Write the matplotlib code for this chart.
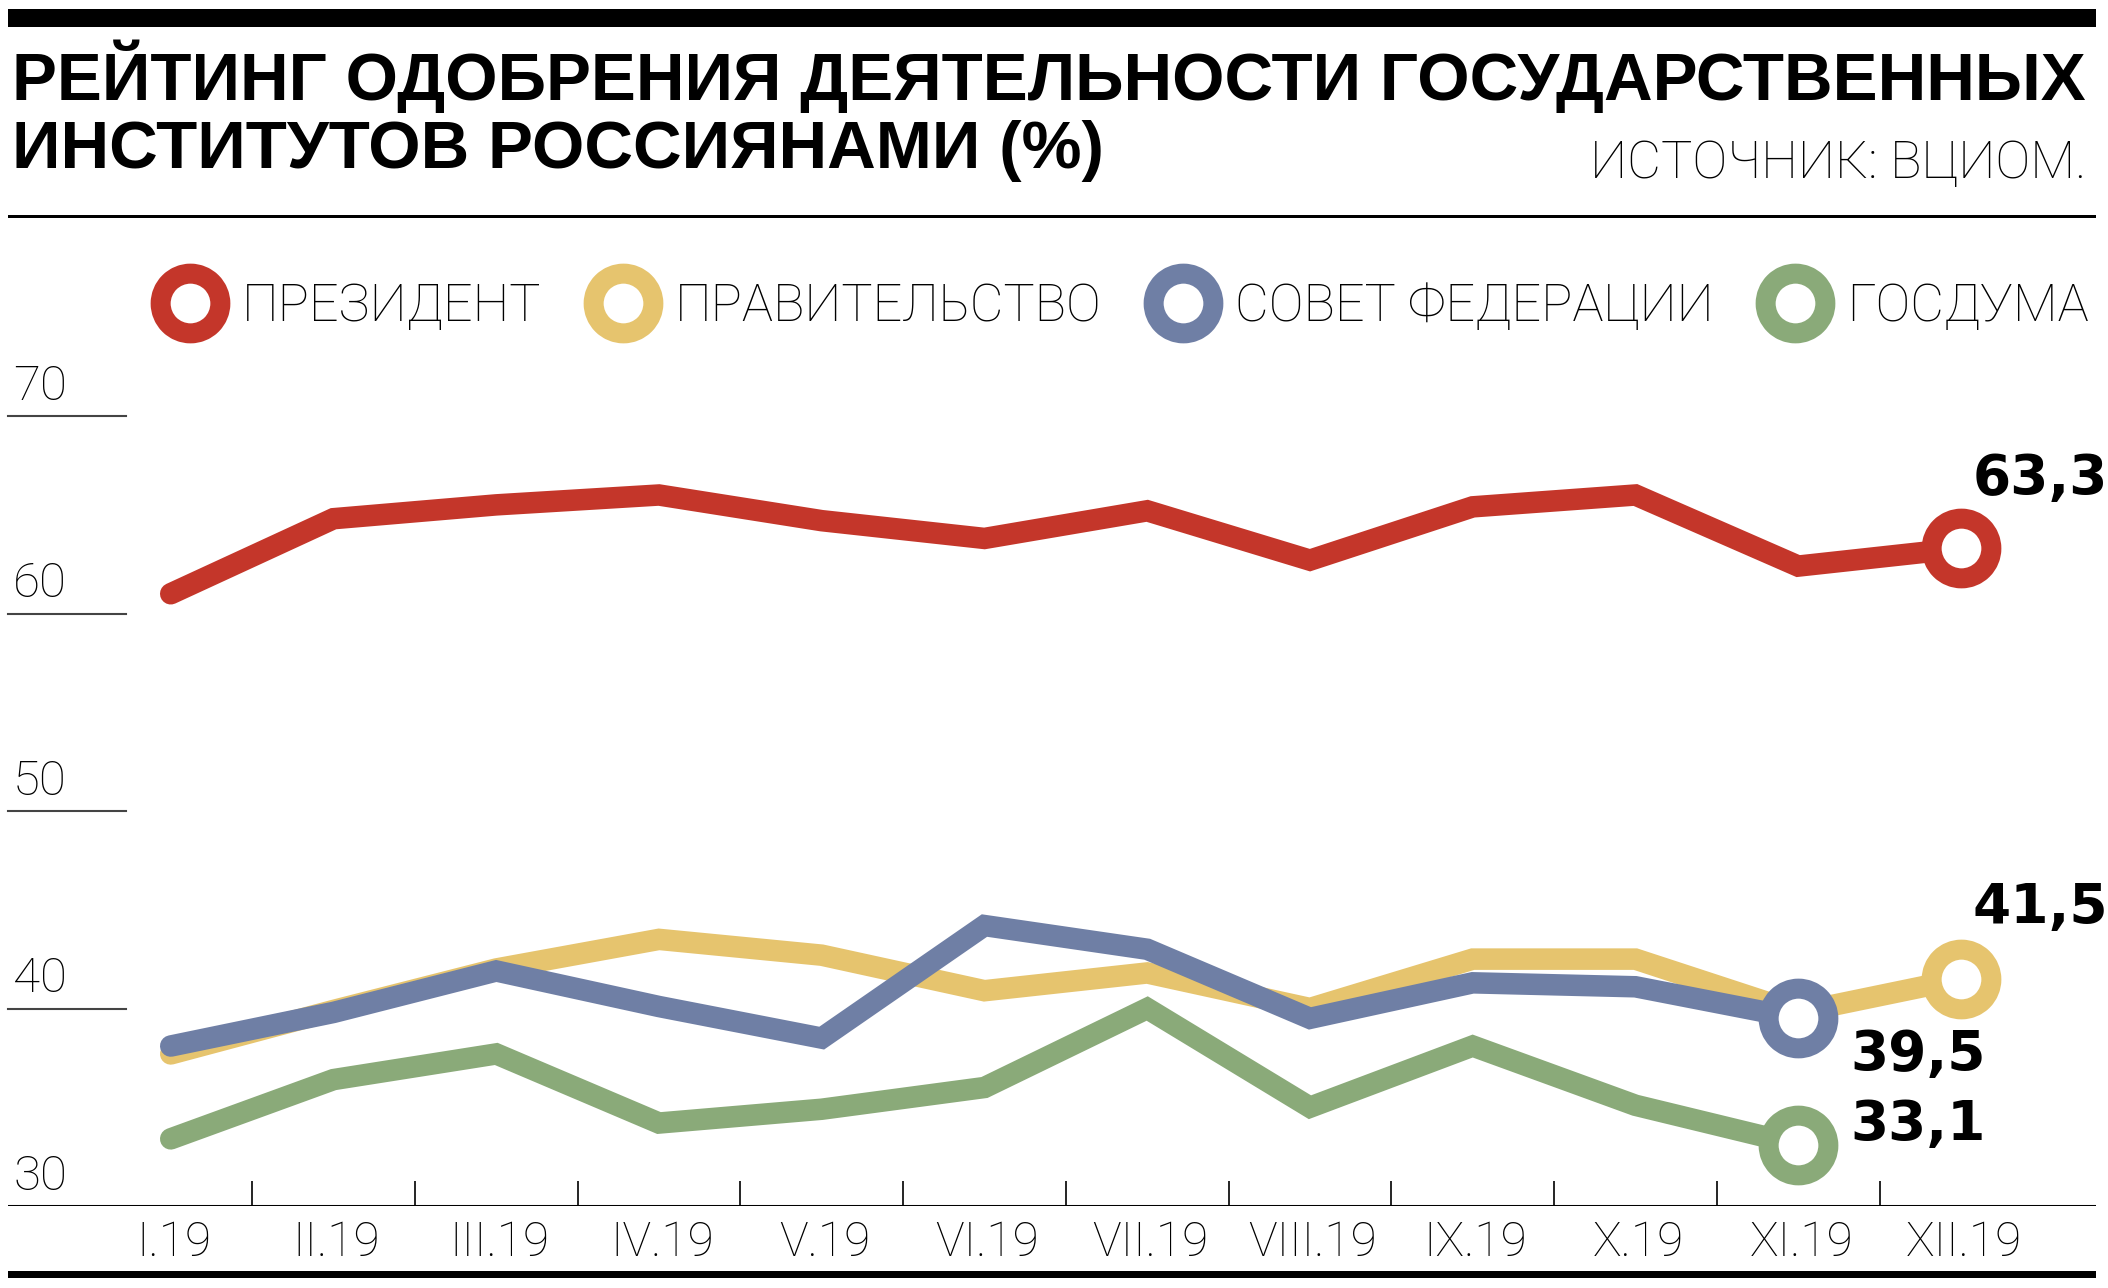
import numpy as np
import matplotlib
matplotlib.use('Agg')
import matplotlib.pyplot as plt
from matplotlib.lines import Line2D
from matplotlib.patches import Rectangle

months = ['I.19', 'II.19', 'III.19', 'IV.19', 'V.19', 'VI.19',
          'VII.19', 'VIII.19', 'IX.19', 'X.19', 'XI.19', 'XII.19']
president = [61.0, 64.8, 65.5, 66.0, 64.7, 63.8, 65.2, 62.7, 65.4, 66.0, 62.4, 63.3]
government = [37.7, 39.9, 42.0, 43.5, 42.7, 40.9, 41.8, 40.0, 42.5, 42.5, 39.8, 41.5]
fed_council = [38.1, 39.8, 41.9, 40.1, 38.5, 44.2, 43.0, 39.5, 41.3, 41.1, 39.5]
duma = [33.4, 36.4, 37.7, 34.2, 34.9, 36.0, 40.0, 35.0, 38.1, 35.1, 33.1]
names = ['ПРЕЗИДЕНТ', 'ПРАВИТЕЛЬСТВО', 'СОВЕТ ФЕДЕРАЦИИ', 'ГОСДУМА']
end_labels = ['63,3', '41,5', '39,5', '33,1']
yticks = [30, 40, 50, 60, 70]

red, yellow, blue, green = '#C4362A', '#E6C46E', '#6F7FA5', '#8AAA79'

W, H = 2108, 1288
fig = plt.figure(figsize=(W / 100, H / 100), dpi=100)
LIGHT = dict(family='Roboto', weight='light')

# chart area: y=30 at 1206px, y=70 at 416px
ax = fig.add_axes([8 / W, 1 - 1206 / H, 2088 / W, 790 / H])
ax.set_xlim(-1.0, 11.83)
ax.set_ylim(30, 70)
ax.axis('off')

x = np.arange(len(months))
ms, mew, lw = 43, 14.4, 15.5
plot_order = [(government, yellow), (duma, green), (fed_council, blue), (president, red)]
for vals, col in plot_order:
    xs = x[:len(vals)]
    ax.plot(xs, vals, color=col, lw=lw, solid_capstyle='round',
            solid_joinstyle='miter', clip_on=False)
    ax.plot(xs[-1], vals[-1], 'o', ms=ms, mew=mew, mfc='white', mec=col, clip_on=False)

# end value labels (offsets in pixels from the last point)
lab_series = [president, government, fed_council, duma]
lab_offsets = [(12, 54), (12, 56), (52, -52), (52, 5)]
for vals, txt, off in zip(lab_series, end_labels, lab_offsets):
    ax.annotate(txt, (len(vals) - 1, vals[-1]), xytext=off, textcoords='offset pixels',
                ha='left', va='baseline', fontsize=39.5, fontweight='bold',
                family='DejaVu Sans')

# y ticks
for v in yticks:
    if v > 30:
        ax.plot([-1.0, -0.277], [v, v], color='#444444', lw=1.5, clip_on=False)
    ax.annotate(str(v), (-1.0, v), xytext=(5, 16), textcoords='offset pixels',
                ha='left', va='baseline', fontsize=35.5, **LIGHT)

# x axis
ax.axhline(30, color='black', lw=2.2)
ax.vlines(x[:-1] + 0.5, 30, 30 + 25 / 19.75, color='black', lw=1.2)
for i, m in enumerate(months):
    ax.annotate(m, (i, 30), xytext=(3, -50), textcoords='offset pixels',
                ha='center', va='baseline', fontsize=34.5, **LIGHT)

# rules
def rule(y0, y1):
    fig.add_artist(Rectangle((8 / W, 1 - y1 / H), 2088 / W, (y1 - y0) / H,
                             transform=fig.transFigure, color='black', lw=0))

rule(9, 27)
rule(215, 218)
rule(1271, 1278)

# title + source
t1 = fig.text(12 / W, 1 - 100 / H, 'РЕЙТИНГ ОДОБРЕНИЯ ДЕЯТЕЛЬНОСТИ ГОСУДАРСТВЕННЫХ',
              fontsize=48, fontweight='bold', family='Liberation Sans', va='baseline')
t2 = fig.text(12 / W, 1 - 168 / H, 'ИНСТИТУТОВ РОССИЯНАМИ (%)',
              fontsize=48, fontweight='bold', family='Liberation Sans', va='baseline')
src = fig.text(2086 / W, 1 - 178 / H, 'ИСТОЧНИК: ВЦИОМ.', ha='right', va='baseline',
               fontsize=41, **LIGHT)

fig.canvas.draw()
r = fig.canvas.get_renderer()
k = 2071 / t1.get_window_extent(r).width
t1.set_fontsize(48 * k)
t2.set_fontsize(48 * k)
src.set_fontsize(41 * 498 / src.get_window_extent(r).width)

# legend
handles = [Line2D([], [], ls='none', marker='o', ms=ms, mew=mew, mfc='white', mec=c)
           for c in [red, yellow, blue, green]]
fig.legend(handles, names, loc='center left', bbox_to_anchor=(150 / W, 1 - 307 / H),
           ncol=4, frameon=False, handlelength=1.54, handletextpad=0.23,
           columnspacing=0.79, borderpad=0, borderaxespad=0,
           prop=dict(family='Roboto', weight='light', size=37.5))

fig.savefig('out.png', dpi=100)
